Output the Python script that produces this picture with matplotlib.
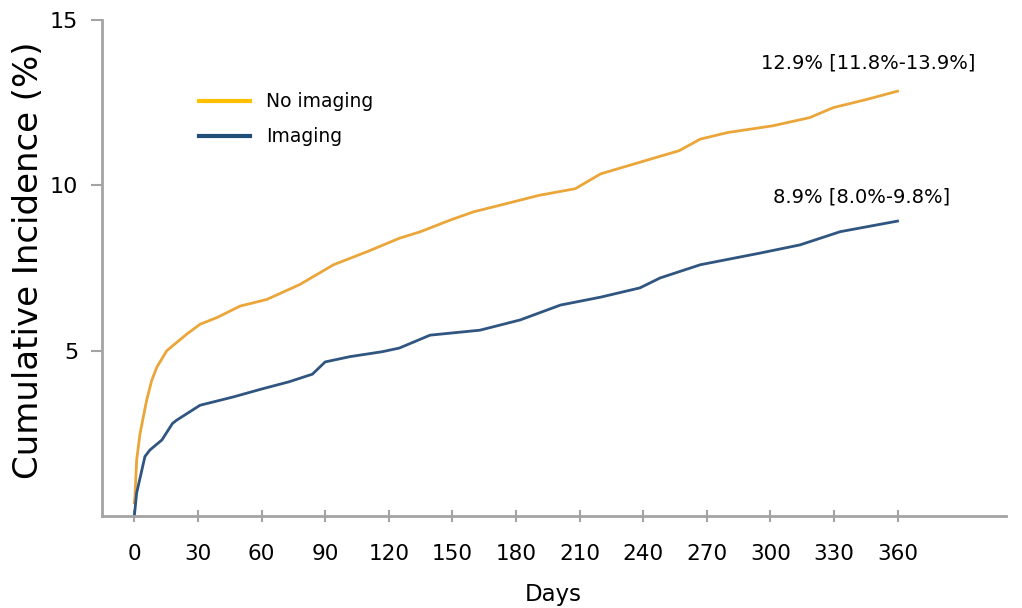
import matplotlib
matplotlib.use("Agg")
import matplotlib.pyplot as plt

# ------------------------------------------------------------------------------
# values (days, cumulative incidence %)

no_img_days = [0, 0.3, 1.1, 2.7, 5.8, 8.2, 10.6, 15.3, 24.7, 31, 38.9, 49.9, 62.5,
               78, 94, 110, 125, 135, 149, 160, 172.5, 191, 208, 220, 238.5,
               257, 267, 280, 301, 318.6, 329.6, 345.5, 360]
no_img_vals = [0.4, 0.6, 1.7, 2.5, 3.5, 4.1, 4.5, 5.0, 5.5, 5.8, 6.0, 6.35, 6.55,
               7.0, 7.6, 8.0, 8.4, 8.6, 8.95, 9.2, 9.4, 9.7, 9.9, 10.35, 10.7,
               11.05, 11.4, 11.6, 11.8, 12.05, 12.35, 12.6, 12.85]

img_days = [0, 1.1, 5, 7.4, 13, 18, 20, 31, 46.6, 60, 73, 84, 90, 101.7, 117,
            125, 139.5, 163, 182, 201, 220, 238.5, 248, 267, 295, 314, 333, 360]
img_vals = [0.0, 0.7, 1.8, 2.0, 2.3, 2.8, 2.9, 3.35, 3.6, 3.84, 4.06, 4.29, 4.66,
            4.82, 4.97, 5.08, 5.47, 5.62, 5.93, 6.38, 6.62, 6.9, 7.2, 7.6, 7.95,
            8.2, 8.6, 8.92]

labels = ["No imaging", "Imaging"]
end_notes = ["12.9% [11.8%-13.9%]", "8.9% [8.0%-9.8%]"]
x_ticks = list(range(0, 361, 30))
y_ticks = [5, 10, 15]

orange = "#EBA63A"
blue = "#2F5580"
gray = "#A3A3A3"

# ------------------------------------------------------------------------------

fig = plt.figure(figsize=(10.22, 6.08), dpi=100)
ax = fig.add_axes([0.0995, 0.1513, 0.8845, 0.8157])

ax.plot(no_img_days, no_img_vals, color=orange, lw=2, label=labels[0])
ax.plot(img_days, img_vals, color=blue, lw=2, label=labels[1])

ax.set_xlim(-15.4, 411)
ax.set_ylim(0, 15)
ax.set_xticks(x_ticks)
ax.set_yticks(y_ticks)

for s in ["top", "right"]:
  ax.spines[s].set_visible(False)
for s in ["left", "bottom"]:
  ax.spines[s].set_color(gray)
  ax.spines[s].set_linewidth(2)

ax.tick_params(axis="y", color=gray, width=1.5, length=8, pad=9, labelsize=16)
ax.tick_params(axis="x", color=gray, width=1.5, length=8, direction="inout", pad=16, labelsize=15.5)

ax.set_ylabel("Cumulative Incidence (%)", fontsize=24.5)
ax.yaxis.set_label_coords(-0.063, 0.516)
ax.set_xlabel("Days", fontsize=16.5, labelpad=14)

ax.text(346, 13.69, end_notes[0], ha="center", va="center", fontsize=14)
ax.text(343, 9.64, end_notes[1], ha="center", va="center", fontsize=14)

leg = ax.legend(loc="center left", bbox_to_anchor=(0.1947, 0.804), bbox_transform=fig.transFigure,
                frameon=False, fontsize=13.5, handlelength=2.7, handletextpad=0.9,
                labelspacing=0.85, borderpad=0, borderaxespad=0)
leg.get_lines()[0].set_color("#FFC000")
leg.get_lines()[1].set_color("#1F4E79")
for l in leg.get_lines():
  l.set_linewidth(3)

fig.savefig("out.png", dpi=100)
